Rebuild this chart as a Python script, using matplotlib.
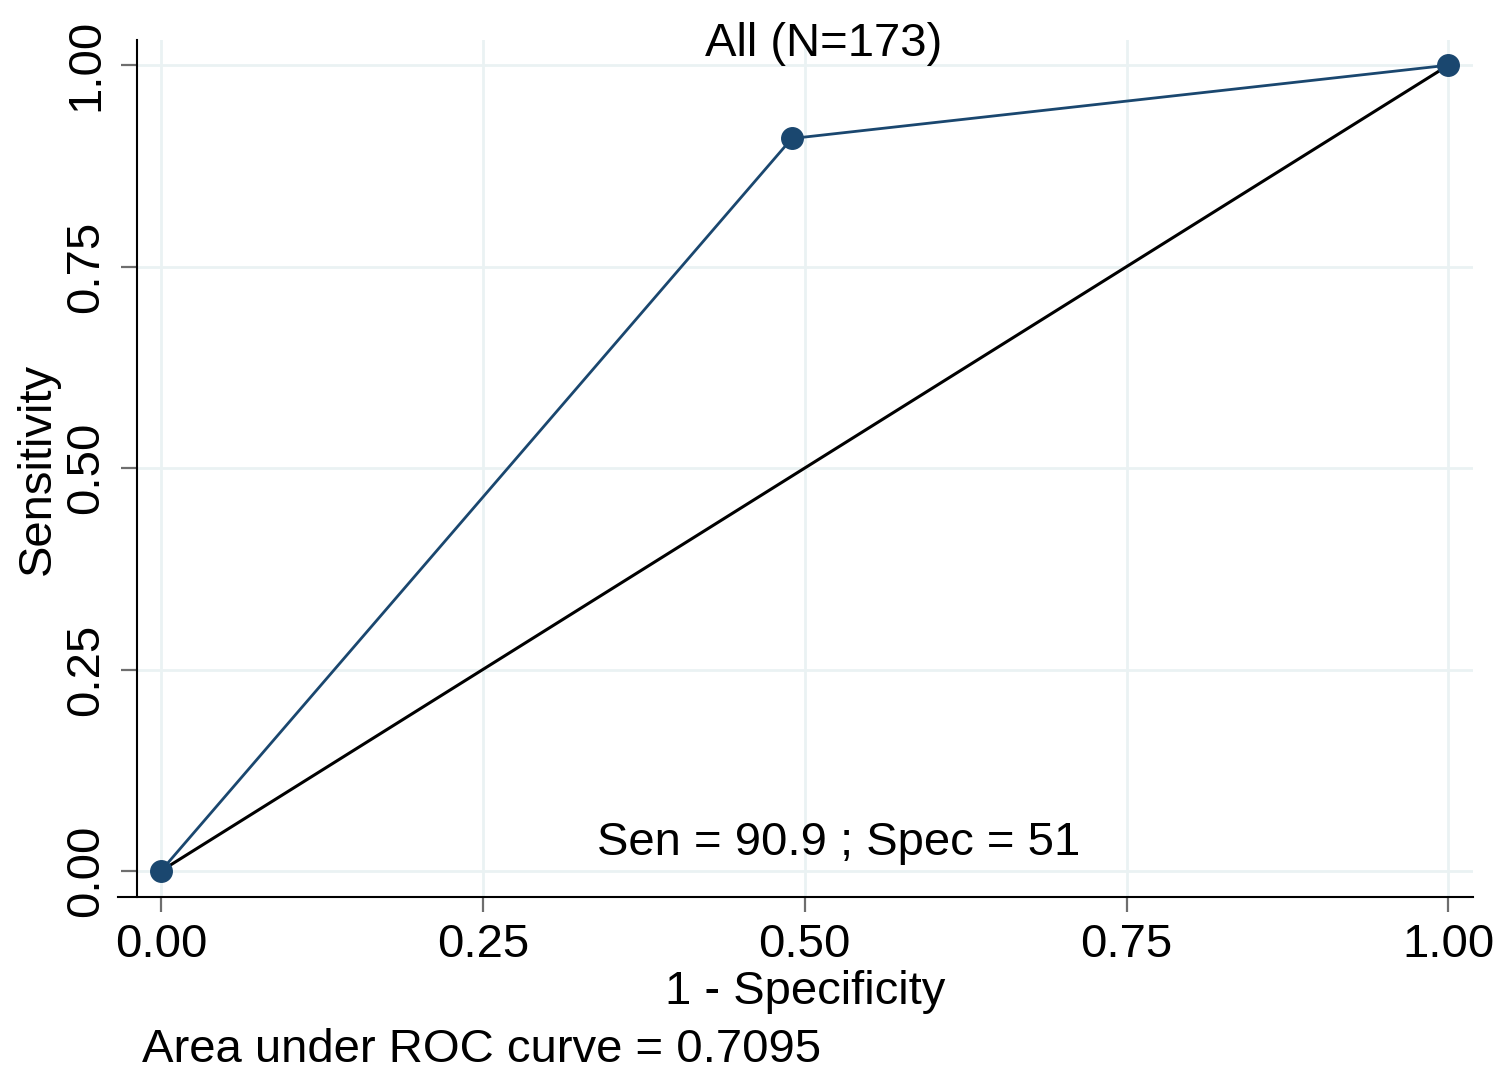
import numpy as np
import matplotlib.pyplot as plt
from matplotlib.lines import Line2D

plt.rcParams['font.family'] = ['Liberation Sans', 'DejaVu Sans']

# ROC points (1 - specificity, sensitivity)
fpr = [0.0, 0.49, 1.0]
tpr = [0.0, 0.909, 1.0]
ref_x = [0.0, 1.0]
ref_y = [0.0, 1.0]
ticks = [0.0, 0.25, 0.5, 0.75, 1.0]
tick_labels = ['0.00', '0.25', '0.50', '0.75', '1.00']

title = 'All (N=173)'
note = 'Sen = 90.9 ; Spec = 51'
auc_text = 'Area under ROC curve = 0.7095'

navy = '#1a476f'
grid_col = '#eaf2f3'
fs = 34

fig = plt.figure(figsize=(15, 10.86), dpi=100)
ax = fig.add_axes([0.0913, 0.174, 0.891, 0.789])

# Stata-like axes
ax.spines['right'].set_visible(False)
ax.spines['top'].set_visible(False)
ax.spines['left'].set_linewidth(1.5)
ax.spines['bottom'].set_visible(False)

ax.plot(fpr, tpr, color=navy, linewidth=2, marker='o', markersize=15.5, zorder=3)
ax.plot(ref_x, ref_y, color='black', linewidth=2.2, zorder=2)

ax.set_xlim(-0.0186, 1.0194)
ax.set_ylim(-0.0323, 1.031)
ax.set_xticks(ticks)
ax.set_xticklabels(tick_labels, fontsize=fs)
ax.set_yticks(ticks)
ax.set_yticklabels(tick_labels, fontsize=fs, rotation=90, va='center')

ax.grid(True, color=grid_col, linewidth=2)
ax.set_axisbelow(True)

ax.tick_params(axis='both', color='#6e6e6e', width=1.6, direction='out')
ax.tick_params(axis='x', length=10.8, pad=8)
ax.tick_params(axis='y', length=11.5, pad=9.4)
# bottom axis line runs a little past the left axis, as in Stata
fig.add_artist(Line2D([118 / 1500, 1473 / 1500], [1 - 897 / 1086, 1 - 897 / 1086],
                      color='black', linewidth=1.5, transform=fig.transFigure))

ax.set_xlabel('1 - Specificity', fontsize=fs, labelpad=2)
ax.set_ylabel('Sensitivity', fontsize=fs, labelpad=3)

ax.text(0.526, 0.035, note, fontsize=fs, ha='center', va='center')
fig.text(824 / 1500, 1 - 44 / 1086, title, fontsize=fs, ha='center', va='center')
fig.text(142 / 1500, 1 - 1050 / 1086, auc_text, fontsize=fs, ha='left', va='center')

plt.savefig('out.png', dpi=100)
plt.close()
